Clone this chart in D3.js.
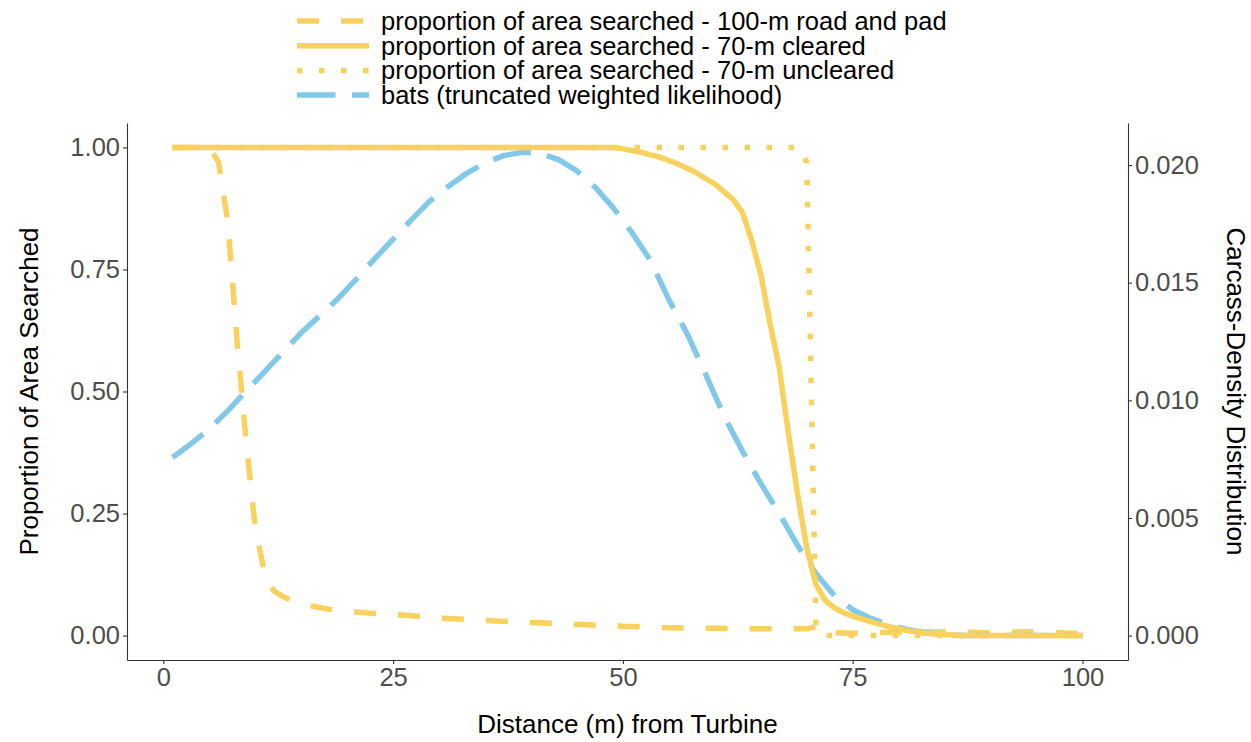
<!DOCTYPE html>
<html>
<head>
<meta charset="utf-8">
<script src="https://cdn.jsdelivr.net/npm/d3@7/dist/d3.min.js"></script>
<style>
  body { margin: 0; background: #fff; }
  svg { display: block; font-family: "Liberation Sans", Arial, sans-serif; }
</style>
</head>
<body>
<svg id="chart"></svg>
<script>
// distance (m) and proportion searched
const roadX = [1, 2, 3, 4, 5, 6, 7, 8, 9, 10, 11, 12, 13, 14, 15, 16, 18, 20, 23, 26, 30, 35, 40, 45, 50, 55, 60, 65, 70, 71, 72, 75, 80, 85, 90, 95, 100];
const roadY = [1, 1, 1, 1, 1, 0.97, 0.85, 0.61, 0.40, 0.22, 0.13, 0.092, 0.08, 0.072, 0.066, 0.061, 0.054, 0.05, 0.045, 0.042, 0.036, 0.031, 0.027, 0.023, 0.019, 0.016, 0.015, 0.014, 0.014, 0.018, 0.006, 0.005, 0.007, 0.008, 0.006, 0.008, 0.004];

const clearedX = [1, 49, 50, 52, 54, 56, 58, 60, 62, 63, 64, 65, 66, 67, 68, 69, 70, 71, 72, 73, 74, 75, 77, 79, 81, 83, 85, 87, 100];
const clearedY = [1, 1, 0.997, 0.99, 0.98, 0.966, 0.948, 0.925, 0.893, 0.867, 0.81, 0.74, 0.64, 0.55, 0.415, 0.29, 0.18, 0.105, 0.072, 0.057, 0.047, 0.04, 0.028, 0.018, 0.01, 0.005, 0.002, 0, 0];

const unclearedX = [1, 69, 70, 71, 72, 100];
const unclearedY = [1, 1, 0.97, 0.015, 0, 0];

// carcass density (right axis)
const batsX = [1, 3, 5, 7, 9, 11, 13, 15, 17, 19, 21, 23, 25, 27, 29, 31, 33, 35, 37, 39, 41, 43, 45, 47, 49, 51, 53, 55, 57, 59, 61, 63, 65, 67, 69, 71, 73, 75, 77, 79, 81, 83, 85, 87, 90, 100];
const batsD = [0.00757, 0.00815, 0.00878, 0.00955, 0.01038, 0.01121, 0.01204, 0.01287, 0.01359, 0.01432, 0.01515, 0.01602, 0.01685, 0.01768, 0.01847, 0.01909, 0.01965, 0.02009, 0.02040, 0.02054, 0.02050, 0.02023, 0.01975, 0.01905, 0.01816, 0.01712, 0.01594, 0.01428, 0.01282, 0.01110, 0.00934, 0.00784, 0.00647, 0.00519, 0.00384, 0.00264, 0.00170, 0.00110, 0.00073, 0.00044, 0.00025, 0.00012, 0.00004, 0, 0, 0];

const xTicks = [0, 25, 50, 75, 100];
const yTicks = [0, 0.25, 0.5, 0.75, 1];
const y2Ticks = [0, 0.005, 0.01, 0.015, 0.02];
const secFactor = 0.02075;

const legendLabels = [
  "proportion of area searched - 100-m road and pad",
  "proportion of area searched - 70-m cleared",
  "proportion of area searched - 70-m uncleared",
  "bats (truncated weighted likelihood)"
];

const width = 1251, height = 742;
const margin = {top: 123, right: 123, bottom: 82, left: 127};
const yellow = "#F9D15E", blue = "#82C8E8";
const lw = 5.5;

const svg = d3.select("#chart").attr("width", width).attr("height", height);

const x = d3.scaleLinear().domain([-3.95, 104.95]).range([margin.left, width - margin.right]);
const y = d3.scaleLinear().domain([-0.05, 1.05]).range([height - margin.bottom, margin.top]);
const y2 = d3.scaleLinear().domain(y.domain().map(v => v * secFactor)).range(y.range());

const series = [
  {xs: roadX, ys: roadY, sc: y, color: yellow, dash: `${4 * lw},${4 * lw}`},
  {xs: batsX, ys: batsD, sc: y2, color: blue, dash: `${7 * lw},${3 * lw}`},
  {xs: clearedX, ys: clearedY, sc: y, color: yellow, dash: null},
  {xs: unclearedX, ys: unclearedY, sc: y, color: yellow, dash: `${lw},${3 * lw}`}
];

const plot = svg.append("g");
series.forEach(s => {
  const line = d3.line().x(d => x(d[0])).y(d => s.sc(d[1]));
  plot.append("path")
    .datum(s.xs.map((v, i) => [v, s.ys[i]]))
    .attr("fill", "none")
    .attr("stroke", s.color)
    .attr("stroke-width", lw)
    .attr("stroke-linejoin", "round")
    .attr("stroke-dasharray", s.dash)
    .attr("d", line);
});

// axes
function styleAxis(g) {
  g.selectAll(".domain").attr("stroke", "#333").attr("stroke-width", 1.1);
  g.selectAll(".tick line").attr("stroke", "#333").attr("stroke-width", 1.1);
  g.selectAll(".tick text").attr("fill", "#4d4d4d").attr("font-size", 25.5).attr("font-family", "Liberation Sans, Arial, sans-serif");
}

svg.append("g")
  .attr("transform", `translate(0,${height - margin.bottom})`)
  .call(d3.axisBottom(x).tickValues(xTicks).tickSize(4).tickPadding(4).tickSizeOuter(0))
  .call(styleAxis);

svg.append("g")
  .attr("transform", `translate(${margin.left},0)`)
  .call(d3.axisLeft(y).tickValues(yTicks).tickFormat(d3.format(".2f")).tickSize(4).tickPadding(3).tickSizeOuter(0))
  .call(styleAxis);

svg.append("g")
  .attr("transform", `translate(${width - margin.right},0)`)
  .call(d3.axisRight(y2).tickValues(y2Ticks).tickFormat(d3.format(".3f")).tickSize(4).tickPadding(3).tickSizeOuter(0))
  .call(styleAxis);

// axis titles
svg.append("text")
  .attr("x", (margin.left + width - margin.right) / 2)
  .attr("y", 733)
  .attr("text-anchor", "middle")
  .attr("font-size", 26)
  .text("Distance (m) from Turbine");

svg.append("text")
  .attr("transform", `translate(38,${(margin.top + height - margin.bottom) / 2}) rotate(-90)`)
  .attr("text-anchor", "middle")
  .attr("font-size", 26)
  .text("Proportion of Area Searched");

svg.append("text")
  .attr("transform", `translate(1227,${(margin.top + height - margin.bottom) / 2}) rotate(90)`)
  .attr("text-anchor", "middle")
  .attr("font-size", 26)
  .text("Carcass-Density Distribution");

// legend
const legend = svg.append("g").attr("transform", "translate(297,21)");
const keyOrder = [0, 2, 3, 1];
legendLabels.forEach((lab, i) => {
  const s = series[keyOrder[i]];
  const row = legend.append("g").attr("transform", `translate(0,${i * 24.7})`);
  row.append("line")
    .attr("x1", 0).attr("x2", 72).attr("y1", 0).attr("y2", 0)
    .attr("stroke", s.color)
    .attr("stroke-width", lw)
    .attr("stroke-dasharray", s.dash);
  row.append("text")
    .attr("x", 84)
    .attr("y", 9)
    .attr("font-size", 25.5)
    .text(lab);
});
</script>
</body>
</html>
